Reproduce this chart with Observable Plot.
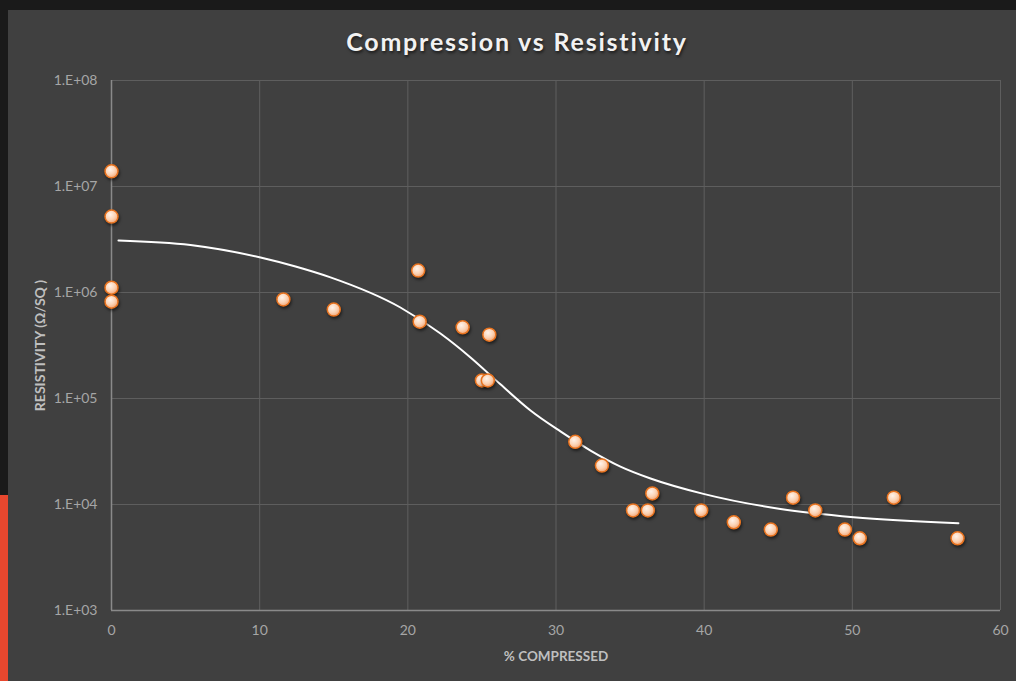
<!DOCTYPE html>
<html><head><meta charset="utf-8">
<script src="https://cdn.jsdelivr.net/npm/d3@7"></script>
<script src="https://cdn.jsdelivr.net/npm/@observablehq/plot@0.6"></script>
<style>
body{margin:0;background:#1a1a1a;width:1016px;height:681px;overflow:hidden;position:relative;font-family:Lato,"Open Sans",sans-serif}
#strip{position:absolute;left:0;top:495px;width:8px;height:186px;background:#e8472e}
#panel{position:absolute;left:8px;top:10px;width:1008px;height:671px;background:#404040}
#title{height:60px;box-sizing:border-box;padding-top:16px;padding-left:10px;text-align:center;color:#f2f2f2;font-weight:700;font-size:25px;letter-spacing:1.8px;text-shadow:1px 2px 3px rgba(0,0,0,0.6)}
.dots circle{filter:drop-shadow(1px 2px 1.5px rgba(0,0,0,0.55))}
</style></head>
<body>
<div id="strip"></div>
<div id="panel"><div id="title">Compression vs Resistivity</div><div id="chart"></div></div>
<script>
const compressed = [0,0,0,0,11.6,15.0,20.7,20.8,23.7,25.5,25.0,25.4,31.3,33.1,35.2,36.2,36.5,39.8,42.0,44.5,46.0,47.5,49.5,50.5,52.8,57.1];
const resistivity = [1.39e7,5.2e6,1.11e6,8.2e5,8.6e5,6.9e5,1.61e6,5.3e5,4.7e5,4.0e5,1.48e5,1.48e5,3.9e4,2.33e4,8.8e3,8.8e3,1.27e4,8.8e3,6.8e3,5.8e3,1.16e4,8.8e3,5.8e3,4.8e3,1.16e4,4.8e3];
const trendX = [0.47,5.33,10.06,12.42,14.78,19.5,22.2,24.23,26.25,28.28,30.3,32.33,34.35,36.38,39.95,45.15,50.08,57.16];
const trendY = [3.10e6,2.81e6,2.14e6,1.76e6,1.39e6,7.22e5,4.1e5,2.44e5,1.36e5,7.7e4,4.89e4,3.23e4,2.28e4,1.76e4,1.26e4,9.07e3,7.59e3,6.67e3];
const xTicks = [0,10,20,30,40,50,60];
const yTicks = [1e3,1e4,1e5,1e6,1e7,1e8];
const yTickLabels = ["1.E+03","1.E+04","1.E+05","1.E+06","1.E+07","1.E+08"];
const xTitle = "% COMPRESSED";
const yTitle = "RESISTIVITY (Ω/SQ )";

const points = compressed.map((x,i)=>({x, y: resistivity[i]}));
const trend = trendX.map((x,i)=>({x, y: trendY[i]}));

const chart = Plot.plot({
  width: 1008, height: 611,
  marginLeft: 103, marginRight: 16, marginTop: 10, marginBottom: 71,
  style: {background: "transparent", color: "#a6a6a6", fontFamily: "Lato, 'Open Sans', sans-serif", fontSize: "14px"},
  x: {domain: [0,60], ticks: xTicks},
  y: {type: "log", domain: [1e3,1e8], ticks: yTicks},
  marks: [
    Plot.gridX(xTicks, {stroke: "#5e5e5e", strokeOpacity: 1, strokeWidth: 1}),
    Plot.gridY(yTicks, {stroke: "#5e5e5e", strokeOpacity: 1, strokeWidth: 1}),
    Plot.ruleX([0], {stroke: "#8a8a8a", strokeWidth: 1.5}),
    Plot.ruleY([1e3], {stroke: "#8a8a8a", strokeWidth: 1.5}),
    Plot.axisX(xTicks, {tickSize: 0, tickPadding: 15, label: null, fill: "#a6a6a6", fontSize: 14}),
    Plot.axisY(yTicks, {tickSize: 0, tickPadding: 14, label: null, fill: "#a6a6a6", fontSize: 14,
      tickFormat: (d) => yTickLabels[yTicks.indexOf(d)]}),
    Plot.line(trend, {x: "x", y: "y", stroke: "#ffffff", strokeWidth: 2, curve: "monotone-x"}),
    Plot.dot(points, {x: "x", y: "y", r: 6.5, fill: "url(#dotgrad)", stroke: "#e8731f", strokeWidth: 1.5, className: "dots"}),
    Plot.text([xTitle], {frameAnchor: "bottom", dy: 46, lineAnchor: "middle", fill: "#bfbfbf", fontWeight: "bold", fontSize: 13.5}),
    Plot.text([yTitle], {frameAnchor: "left", dx: -71, rotate: -90, textAnchor: "middle", lineAnchor: "middle", fill: "#bfbfbf", fontWeight: "bold", fontSize: 14})
  ]
});

const svg = d3.select(chart);
const defs = svg.insert("defs", ":first-child");
const g = defs.append("radialGradient").attr("id","dotgrad").attr("cx","40%").attr("cy","35%").attr("r","65%");
g.append("stop").attr("offset","0%").attr("stop-color","#fff3ea");
g.append("stop").attr("offset","60%").attr("stop-color","#fbd2b4");
g.append("stop").attr("offset","100%").attr("stop-color","#f3a878");
document.getElementById("chart").appendChild(chart);
</script>
</body></html>
